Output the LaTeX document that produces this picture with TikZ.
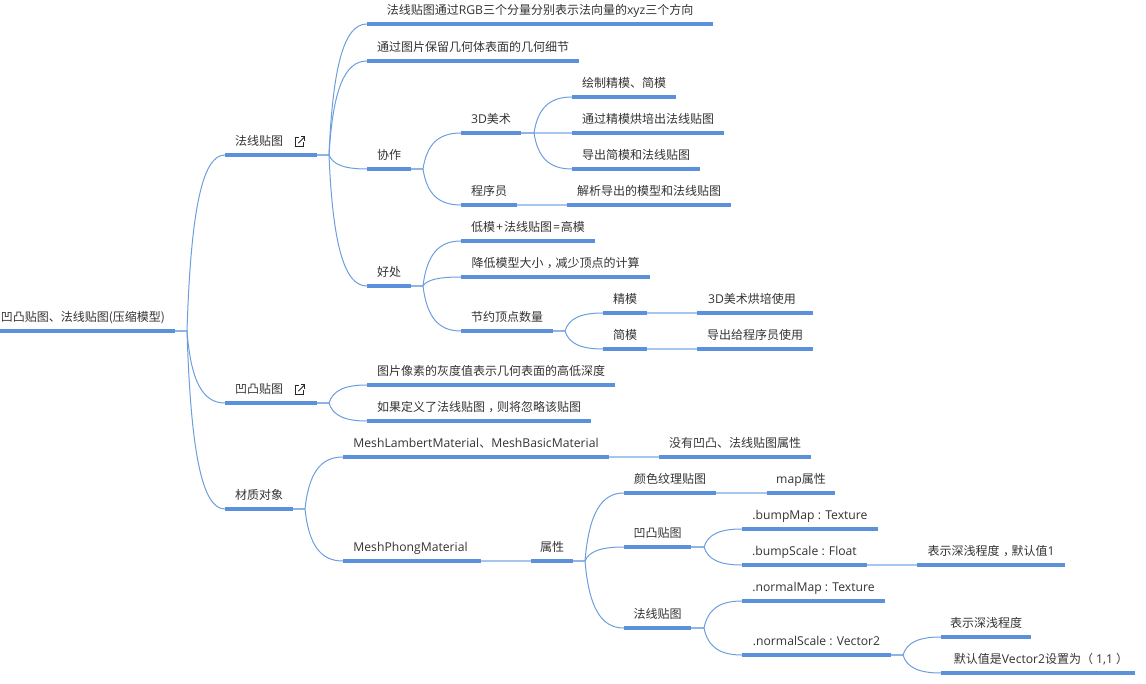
\documentclass[tikz,border=0pt]{standalone}
\usepackage{fontspec}
\setmainfont{Open Sans}[Scale=1.015]
\newfontfamily\cjk{Noto Sans CJK SC}
\usetikzlibrary{calc}
\definecolor{barblue}{HTML}{5B90DA}
\definecolor{linkblue}{HTML}{6C9EDF}
\definecolor{stubblue}{HTML}{8FB5E8}
\definecolor{joinblue}{HTML}{A6C6EE}
\definecolor{inktext}{HTML}{333333}
\newcommand\zh[1]{{\cjk #1}}
% full-width comma with its mark pushed to the middle of the cell
\newcommand\zhcomma{\kern3.5pt{\cjk ，}\kern-3.5pt}
% a topic: its label sits over a thick bar running from x1 to x2
\newcommand\topic[5]{%
  \node[topic, minimum width={\the\dimexpr #3pt-#2pt\relax}] (#1) at ({(#2+#3)/2},#4) {#5};
  \draw[bar] (#1.south west) -- (#1.south east);}
% stub from a bar end to its junction
\newcommand\stub[2]{\draw[stub] (#1.south east) -- (#2);}
% straight join between two topics on one line
\newcommand\join[2]{\draw[joinline] (#1.south east) -- (#2.south west);}
% branch curve leaving a junction almost vertically
\newcommand\branch[2]{\draw[branch] let \p1=(#1), \p2=(#2.south west) in
  (#1) .. controls ({\x1+0.10*(\x2-\x1)},{\y1+0.68*(\y2-\y1)}) and ({\x1+0.40*(\x2-\x1)},{\y2}) .. (#2.south west);}
% external-link mark
\newcommand\exticon[1]{\begin{scope}[shift={(#1)}, icon]
  \draw (4.5,0.6) -- (0.6,0.6) -- (0.6,9.4) -- (9.4,9.4) -- (9.4,5.5);
  \draw (3.8,6.2) -- (10,0);
  \draw (6,0) -- (10,0) -- (10,4);
\end{scope}}
\tikzset{
  topic/.style={anchor=south, inner sep=0pt, minimum height=25pt, text height=9pt, text depth=3pt,
    font=\fontsize{12pt}{14pt}\selectfont, text=inktext},
  bar/.style={draw=barblue, line width=3.2pt},
  stub/.style={draw=stubblue, line width=2pt},
  joinline/.style={draw=joinblue, line width=2pt},
  branch/.style={draw=linkblue, line width=1pt},
  icon/.style={draw=black!85, line width=1pt},
}
\begin{document}
\begin{tikzpicture}[x=1pt,y=-1pt]
\useasboundingbox (0,0) rectangle (1146,684);

% junction points
\coordinate (jroot) at (187,331);
\coordinate (jfa) at (329,155);
\coordinate (jtu) at (329,403);
\coordinate (jcz) at (305,509);
\coordinate (jxz) at (423,169);
\coordinate (jhc) at (423,286);
\coordinate (jart) at (534,133);
\coordinate (jjy) at (565,331);
\coordinate (jsx) at (585,561);
\coordinate (jbp) at (704,547);
\coordinate (jnr) at (704,628);
\coordinate (jns) at (903,655);

% topics
\topic{root}{-9}{175}{331}{\zh{凹凸贴图、法线贴图(压缩模型)}}
\topic{fa}{225}{317}{155}{\hbox to 72pt{\zh{法线贴图}\hfil}}
\topic{tu}{225}{317}{403}{\hbox to 72pt{\zh{凹凸贴图}\hfil}}
\topic{cz}{225}{293}{509}{\zh{材质对象}}

\topic{a1}{367}{713}{24}{\zh{法线贴图通过}RGB\zh{三个分量分别表示法向量的}xyz\zh{三个方向}}
\topic{a2}{367}{579}{61}{\zh{通过图片保留几何体表面的几何细节}}
\topic{xz}{367}{411}{169}{\zh{协作}}
\topic{hc}{367}{411}{286}{\zh{好处}}

\topic{art}{461}{521}{133}{3D\zh{美术}}
\topic{prog}{461}{517}{205}{\zh{程序员}}
\topic{c1}{572}{676}{97}{\zh{绘制精模、简模}}
\topic{c2}{572}{724}{133}{\zh{通过精模烘培出法线贴图}}
\topic{c3}{572}{700}{169}{\zh{导出简模和法线贴图}}
\topic{d1}{567}{731}{205}{\zh{解析导出的模型和法线贴图}}

\topic{e1}{461}{595}{241}{\zh{低模}\kern1pt+\kern1pt\zh{法线贴图}\kern1pt=\kern1pt\zh{高模}}
\topic{e2}{461}{650}{277}{\zh{降低模型大小}\zhcomma\zh{减少顶点的计算}}
\topic{e3}{461}{553}{331}{\zh{节约顶点数量}}
\topic{f1}{603}{647}{313}{\zh{精模}}
\topic{f2}{603}{647}{349}{\zh{简模}}
\topic{g1}{697}{813}{313}{3D\zh{美术烘培使用}\kern6pt}
\topic{g2}{697}{813}{349}{\zh{导出给程序员使用}}

\topic{h1}{367}{615}{385}{\zh{图片像素的灰度值表示几何表面的高低深度}}
\topic{h2}{367}{591}{421}{\zh{如果定义了法线贴图}\zhcomma\zh{则将忽略该贴图}}

\topic{i1}{343}{609}{457}{MeshLambertMaterial\zh{、}MeshBasicMaterial}
\topic{i2}{343}{481}{561}{MeshPhongMaterial\kern3pt}
\topic{j1}{659}{811}{457}{\zh{没有凹凸、法线贴图属性}}
\topic{j2}{531}{573}{561}{\zh{属性}}

\topic{k1}{624}{716}{493}{\zh{颜色纹理贴图}}
\topic{k2}{624}{691}{547}{\zh{凹凸贴图}}
\topic{k3}{624}{691}{628}{\zh{法线贴图}}
\topic{l1}{767}{835}{493}{map\zh{属性}}
\topic{m1}{742}{878}{529}{.bumpMap : Texture}
\topic{m2}{742}{867}{565}{.bumpScale : Float}
\topic{n1}{917}{1065}{565}{\zh{表示深浅程度}\zhcomma\zh{默认值}1}
\topic{o1}{742}{885}{601}{.normalMap : Texture}
\topic{o2}{742}{891}{655}{.normalScale : Vector2}
\topic{p1}{941}{1031}{637}{\zh{表示深浅程度}}
\topic{p2}{941}{1135}{673}{\kern6pt\zh{默认值是}Vector2\zh{设置为（}\kern3pt 1,1\kern3pt\zh{）}}

% external-link marks
\coordinate (markfa) at (294.5,137);
\coordinate (marktu) at (294.5,385);
\exticon{markfa}
\exticon{marktu}

% stubs from bars to their junctions
\stub{root}{jroot}
\stub{fa}{jfa}
\stub{tu}{jtu}
\stub{cz}{jcz}
\stub{xz}{jxz}
\stub{hc}{jhc}
\stub{art}{jart}
\stub{e3}{jjy}
\stub{j2}{jsx}
\stub{k2}{jbp}
\stub{k3}{jnr}
\stub{o2}{jns}

% straight joins
\join{prog}{d1}
\join{f1}{g1}
\join{f2}{g2}
\join{i1}{j1}
\join{i2}{j2}
\join{k1}{l1}
\join{m2}{n1}
\draw[joinline] (jart) -- (c2.south west);

% branch curves
\branch{jroot}{fa}
\branch{jroot}{tu}
\branch{jroot}{cz}
\branch{jfa}{a1}
\branch{jfa}{a2}
\branch{jfa}{xz}
\branch{jfa}{hc}
\branch{jxz}{art}
\branch{jxz}{prog}
\branch{jart}{c1}
\branch{jart}{c3}
\branch{jhc}{e1}
\branch{jhc}{e2}
\branch{jhc}{e3}
\branch{jjy}{f1}
\branch{jjy}{f2}
\branch{jtu}{h1}
\branch{jtu}{h2}
\branch{jcz}{i1}
\branch{jcz}{i2}
\branch{jsx}{k1}
\branch{jsx}{k2}
\branch{jsx}{k3}
\branch{jbp}{m1}
\branch{jbp}{m2}
\branch{jnr}{o1}
\branch{jnr}{o2}
\branch{jns}{p1}
\branch{jns}{p2}
\end{tikzpicture}
\end{document}
